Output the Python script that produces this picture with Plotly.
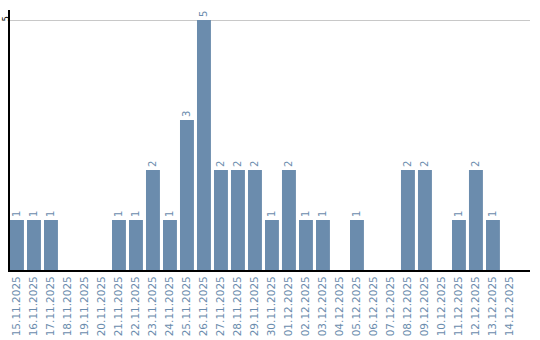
import plotly.graph_objects as go

dates = ["15.11.2025","16.11.2025","17.11.2025","18.11.2025","19.11.2025","20.11.2025",
         "21.11.2025","22.11.2025","23.11.2025","24.11.2025","25.11.2025","26.11.2025",
         "27.11.2025","28.11.2025","29.11.2025","30.11.2025","01.12.2025","02.12.2025",
         "03.12.2025","04.12.2025","05.12.2025","06.12.2025","07.12.2025","08.12.2025",
         "09.12.2025","10.12.2025","11.12.2025","12.12.2025","13.12.2025","14.12.2025"]
counts = [1,1,1,0,0,0,1,1,2,1,3,5,2,2,2,1,2,1,1,0,1,0,0,2,2,0,1,2,1,0]

labels = [str(c) if c > 0 else "" for c in counts]
blue = "#6b8cad"

fig = go.Figure(go.Bar(
    x=list(range(len(dates))), y=counts, text=labels,
    textposition="outside", textangle=-90, cliponaxis=False,
    textfont=dict(family="DejaVu Sans", size=10, color=blue),
    marker=dict(color=blue, line=dict(width=0)), width=0.82,
))

fig.update_layout(
    width=540, height=340,
    margin=dict(l=10, r=10, t=10, b=70),
    paper_bgcolor="white", plot_bgcolor="white",
    showlegend=False,
    font=dict(family="DejaVu Sans", size=10, color=blue),
    xaxis=dict(
        tickmode="array", tickvals=list(range(len(dates))), ticktext=dates,
        tickangle=-90, range=[-0.41, 30.18], showgrid=False, automargin=False,
        showline=True, linecolor="black", linewidth=2, zeroline=False,
        tickfont=dict(family="DejaVu Sans", size=10.5, color=blue),
    ),
    yaxis=dict(
        range=[0, 5.2], tickvals=[5], ticktext=["5"], tickangle=-90, automargin=False,
        showgrid=True, gridcolor="#c8c8c8", gridwidth=1,
        showline=True, linecolor="black", linewidth=2, zeroline=False,
        tickfont=dict(family="DejaVu Sans", size=8, color="black"),
        ticklabelstandoff=-4,
    ),
)

fig.write_html("out.html")
